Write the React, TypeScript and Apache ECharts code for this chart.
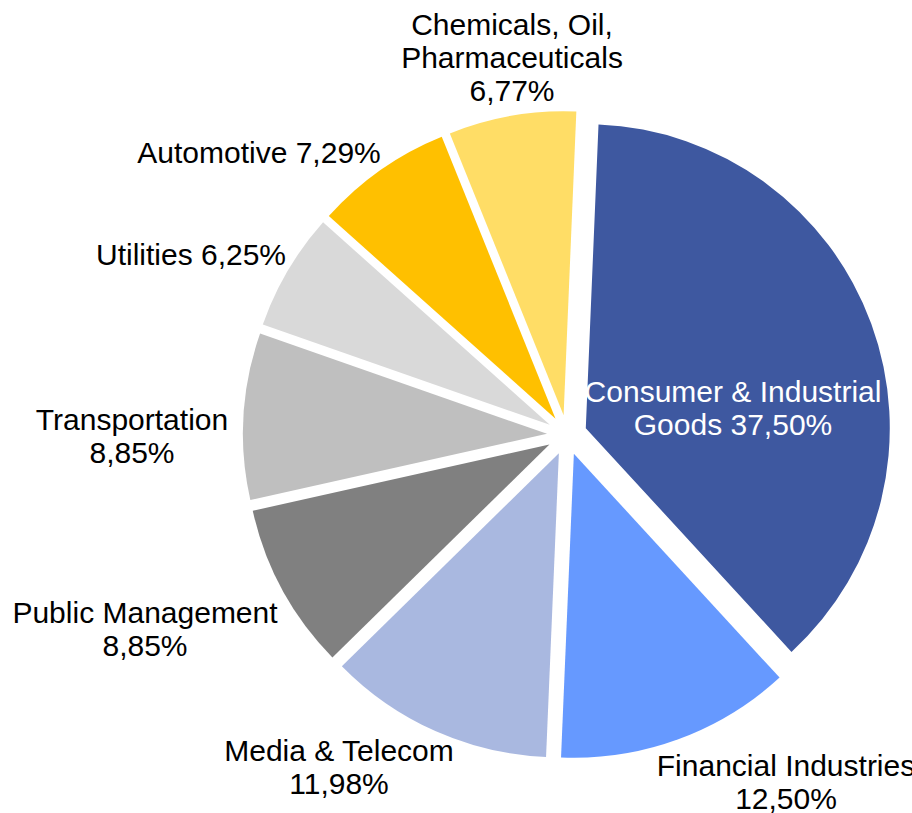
import React, { useEffect, useRef } from "react";
import * as echarts from "echarts";

// Data (clockwise from the top)
const names = [
  "Consumer & Industrial\nGoods",
  "Financial Industries",
  "Media & Telecom",
  "Public Management",
  "Transportation",
  "Utilities",
  "Automotive",
  "Chemicals, Oil,\nPharmaceuticals",
];
const values = [37.5, 12.5, 11.98, 8.85, 8.85, 6.25, 7.29, 6.77];
const valueSeparators = [" ", "\n", "\n", "\n", "\n", " ", " ", "\n"];
const colors = [
  "#3E58A0",
  "#6699FF",
  "#A9B8E0",
  "#808080",
  "#BFBFBF",
  "#D9D9D9",
  "#FFC000",
  "#FFDD66",
];
const labelColors = ["#FFFFFF", "#000000", "#000000", "#000000", "#000000", "#000000", "#000000", "#000000"];

// Label centre positions (px)
const labelPos: [number, number][] = [
  [733, 408],
  [786, 782],
  [339, 767],
  [145, 629],
  [132, 436],
  [191, 254],
  [259, 152],
  [512, 57],
];

const fmt = (v: number) => v.toFixed(2).replace(".", ",") + "%";
const FONT = "Liberation Sans, Arial, sans-serif";

export default function App() {
  const ref = useRef<HTMLDivElement>(null);
  useEffect(() => {
    if (!ref.current) return;
    const chart = echarts.init(ref.current, undefined, { renderer: "svg" });
    chart.setOption({
      animation: false,
      backgroundColor: "#FFFFFF",
      graphic: values.map((v, i) => ({
        type: "text",
        x: labelPos[i][0],
        y: labelPos[i][1],
        z: 10,
        silent: true,
        style: {
          text: names[i] + valueSeparators[i] + fmt(v),
          fill: labelColors[i],
          fontFamily: FONT,
          fontSize: 30,
          lineHeight: 33,
          textAlign: "center",
          textVerticalAlign: "middle",
        },
      })),
      series: [
        {
          type: "pie",
          center: [567, 435],
          radius: 304,
          startAngle: 87.6,
          clockwise: true,
          selectedMode: "multiple",
          selectedOffset: 20,
          avoidLabelOverlap: false,
          emphasis: { disabled: true },
          labelLine: { show: false },
          label: { show: false },
          data: values.map((v, i) => ({
            name: names[i],
            value: v,
            selected: true,
            itemStyle: { color: colors[i], borderWidth: 0 },
            select: { itemStyle: { color: colors[i] } },
          })),
        },
      ],
    });
    return () => chart.dispose();
  }, []);
  return (
    <div
      ref={ref}
      style={{ position: "fixed", left: 0, top: 0, width: 912, height: 813 }}
    />
  );
}
